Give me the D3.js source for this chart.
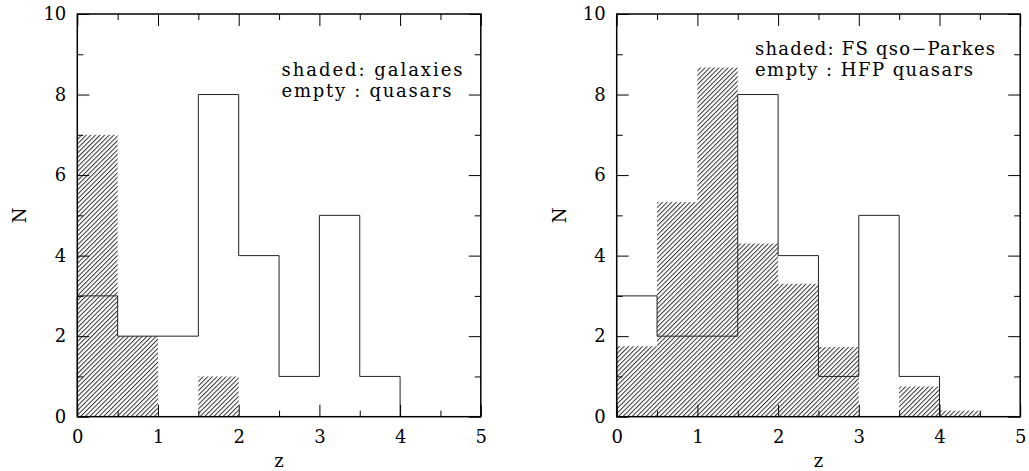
<!DOCTYPE html>
<html>
<head>
<meta charset="utf-8">
<script src="https://cdn.jsdelivr.net/npm/d3@7"></script>
<style>
  body { margin: 0; background: #fff; }
  svg { display: block; }
  text { font-family: "DejaVu Serif", "Liberation Serif", serif; fill: #000; }
</style>
</head>
<body>
<div id="main"></div>
<script>
// lower edge of each redshift bin (width 0.5)
const binStarts = [0, 0.5, 1, 1.5, 2, 2.5, 3, 3.5, 4];
const binWidth = 0.5;
// left panel: galaxies (shaded) and quasars (empty)
const galaxies = [7, 2, 0, 1];
const quasars = [3, 2, 2, 8, 4, 1, 5, 1];
// right panel: FS qso-Parkes (shaded, normalised) and HFP quasars (empty)
const parkes = [1.75, 5.33, 8.67, 4.3, 3.3, 1.73, 0, 0.75, 0.15];
const xTicks = [0, 1, 2, 3, 4, 5];
const xMinor = [0.5, 1.5, 2.5, 3.5, 4.5];
const yTicks = [0, 2, 4, 6, 8, 10];
const yMinor = [1, 3, 5, 7, 9];
const legendLeft = ['shaded: galaxies', 'empty : quasars'];
const legendRight = ['shaded: FS qso\u2212Parkes', 'empty : HFP quasars'];

const width = 1029;
const height = 471;

const svg = d3.select('#main')
  .append('svg')
  .attr('width', width)
  .attr('height', height);

// diagonal hatching used for the shaded histograms
svg.append('defs')
  .append('pattern')
  .attr('id', 'hatch')
  .attr('patternUnits', 'userSpaceOnUse')
  .attr('width', 3.25)
  .attr('height', 10)
  .attr('patternTransform', 'rotate(45)')
  .append('line')
  .attr('x1', 0.5).attr('y1', 0)
  .attr('x2', 0.5).attr('y2', 10)
  .attr('stroke', '#2a2a2a')
  .attr('stroke-width', 0.95);

function drawPanel(opts) {
  const x = d3.scaleLinear().domain([0, 5]).range([opts.left, opts.left + 403.5]);
  const y = d3.scaleLinear().domain([0, 10]).range([416.7, 14]);
  const g = svg.append('g');

  // shaded histogram (no outline)
  g.append('g')
    .selectAll('rect')
    .data(opts.shaded.map((v, i) => ({ z: binStarts[i], n: v })).filter(d => d.n > 0))
    .enter()
    .append('rect')
    .attr('x', d => x(d.z))
    .attr('y', d => y(d.n))
    .attr('width', d => x(d.z + binWidth) - x(d.z))
    .attr('height', d => y(0) - y(d.n))
    .attr('fill', 'url(#hatch)');

  // empty histogram as a step outline
  const pts = [[0, 0]];
  opts.empty.forEach((v, i) => {
    pts.push([binStarts[i], v]);
    pts.push([binStarts[i] + binWidth, v]);
  });
  pts.push([binStarts[opts.empty.length - 1] + binWidth, 0]);
  g.append('path')
    .attr('d', d3.line().x(d => x(d[0])).y(d => y(d[1]))(pts))
    .attr('fill', 'none')
    .attr('stroke', '#222')
    .attr('stroke-width', 1);

  // inward ticks on all four sides
  const styleAxis = sel => {
    sel.select('.domain').remove();
    sel.selectAll('line').attr('stroke', '#000');
    sel.selectAll('text').style('font-size', '18px').style('font-family', '"DejaVu Serif", serif');
  };
  g.append('g').attr('transform', `translate(0,${y(0)})`)
    .call(d3.axisBottom(x).tickValues(xTicks).tickSize(-12).tickPadding(13.5).tickFormat(d3.format('d')))
    .call(styleAxis);
  g.append('g').attr('transform', `translate(0,${y(0)})`)
    .call(d3.axisBottom(x).tickValues(xMinor).tickSize(-6).tickFormat(''))
    .call(styleAxis);
  g.append('g').attr('transform', `translate(0,${y(10)})`)
    .call(d3.axisTop(x).tickValues(xTicks).tickSize(-12).tickFormat(''))
    .call(styleAxis);
  g.append('g').attr('transform', `translate(0,${y(10)})`)
    .call(d3.axisTop(x).tickValues(xMinor).tickSize(-6).tickFormat(''))
    .call(styleAxis);
  g.append('g').attr('transform', `translate(${x(0)},0)`)
    .call(d3.axisLeft(y).tickValues(yTicks).tickSize(-12).tickPadding(11).tickFormat(d3.format('d')))
    .call(styleAxis);
  g.append('g').attr('transform', `translate(${x(0)},0)`)
    .call(d3.axisLeft(y).tickValues(yMinor).tickSize(-6).tickFormat(''))
    .call(styleAxis);
  g.append('g').attr('transform', `translate(${x(5)},0)`)
    .call(d3.axisRight(y).tickValues(yTicks).tickSize(-12).tickFormat(''))
    .call(styleAxis);
  g.append('g').attr('transform', `translate(${x(5)},0)`)
    .call(d3.axisRight(y).tickValues(yMinor).tickSize(-6).tickFormat(''))
    .call(styleAxis);

  // frame
  g.append('rect')
    .attr('x', x(0)).attr('y', y(10))
    .attr('width', x(5) - x(0)).attr('height', y(0) - y(10))
    .attr('fill', 'none')
    .attr('stroke', '#000')
    .attr('stroke-width', 1.5);

  // axis labels
  g.append('text')
    .attr('x', (x(0) + x(5)) / 2)
    .attr('y', 467)
    .attr('text-anchor', 'middle')
    .style('font-size', '18px')
    .text('z');
  g.append('text')
    .attr('transform', `translate(${x(0) - 51},${(y(0) + y(10)) / 2}) rotate(-90)`)
    .attr('text-anchor', 'middle')
    .style('font-size', '18px')
    .text('N');

  // legend
  g.selectAll('.legend')
    .data(opts.legend)
    .enter()
    .append('text')
    .attr('class', 'legend')
    .attr('x', opts.legendX)
    .attr('y', (d, i) => opts.legendY + i * 20.5)
    .attr('textLength', (d, i) => opts.legendW[i])
    .attr('lengthAdjust', 'spacing')
    .style('font-size', '18px')
    .text(d => d);
}

drawPanel({ left: 77.3, shaded: galaxies, empty: quasars, legend: legendLeft,
  legendX: 281.5, legendY: 76, legendW: [181, 170] });
drawPanel({ left: 616.7, shaded: parkes, empty: quasars, legend: legendRight,
  legendX: 755, legendY: 55, legendW: [240, 218] });
</script>
</body>
</html>
